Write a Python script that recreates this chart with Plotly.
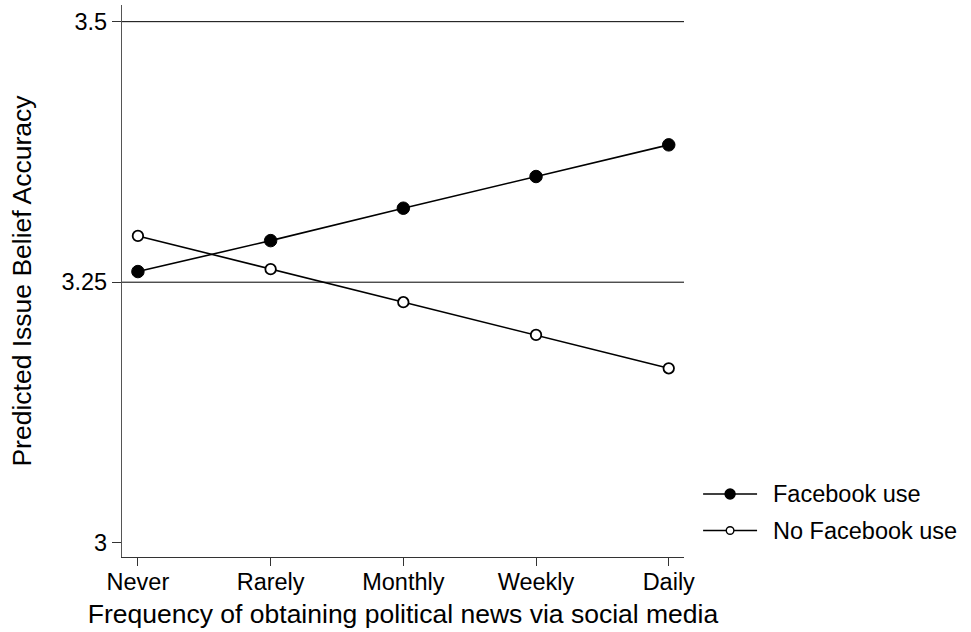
import plotly.graph_objects as go

# Frequency categories on the x axis
frequency = ["Never", "Rarely", "Monthly", "Weekly", "Daily"]

# Predicted issue belief accuracy by group
facebook_use = [3.2602, 3.2899, 3.3210, 3.3514, 3.3818]
no_facebook_use = [3.2944, 3.2625, 3.2308, 3.1994, 3.1674]

# Y tick values / labels and horizontal reference lines
y_ticks = [3.0, 3.25, 3.5]
y_tick_labels = ["3", "3.25", "3.5"]
grid_levels = [3.25, 3.5]

# Legend entries: (label, marker fill, marker radius in px, key row y in paper units)
legend_entries = [
    ("Facebook use", "black", 5, 0.114),
    ("No Facebook use", "white", 3.8, 0.048),
]

FONT = "Liberation Sans, Arial, Helvetica, sans-serif"
x_pos = list(range(len(frequency)))

fig = go.Figure()

fig.add_trace(go.Scatter(
    x=x_pos, y=facebook_use, mode="lines+markers", name="Facebook use",
    line=dict(color="black", width=1.6),
    marker=dict(symbol="circle", size=12.5, color="black",
                line=dict(color="black", width=1)),
))
fig.add_trace(go.Scatter(
    x=x_pos, y=no_facebook_use, mode="lines+markers", name="No Facebook use",
    line=dict(color="black", width=1.6),
    marker=dict(symbol="circle", size=10.5, color="white",
                line=dict(color="black", width=1.8)),
))

for g in grid_levels:
    fig.add_shape(type="line", xref="paper", x0=0, x1=1, yref="y", y0=g, y1=g,
                  line=dict(color="black", width=1), layer="below")

# Legend keys drawn to the right of the plot area
key_x0, key_x1, key_mid, text_x = 1.034, 1.130, 1.082, 1.154
for label, fill, radius, ky in legend_entries:
    fig.add_shape(type="line", xref="paper", yref="paper",
                  x0=key_x0, x1=key_x1, y0=ky, y1=ky,
                  line=dict(color="black", width=1.6))
    fig.add_shape(type="circle", xref="paper", yref="paper",
                  xsizemode="pixel", ysizemode="pixel",
                  xanchor=key_mid, yanchor=ky,
                  x0=-radius, x1=radius, y0=-radius, y1=radius,
                  fillcolor=fill, line=dict(color="black", width=1.4))
    fig.add_annotation(xref="paper", yref="paper", x=text_x, y=ky,
                       xanchor="left", yanchor="middle", showarrow=False,
                       text=label, font=dict(size=23.5, family=FONT, color="black"))

fig.update_layout(
    width=971, height=632,
    margin=dict(l=122, r=287, t=5, b=75),
    paper_bgcolor="white", plot_bgcolor="white",
    font=dict(family=FONT, color="black", size=23.5),
    showlegend=False,
    xaxis=dict(
        range=[-0.12, 4.115], tickmode="array", tickvals=x_pos, ticktext=frequency,
        showgrid=False, zeroline=False, showline=True, linecolor="#333333",
        linewidth=1.2, ticks="outside", ticklen=8, tickcolor="#333333",
        tickfont=dict(size=23.5), ticklabelstandoff=-4,
        title=dict(text="Frequency of obtaining political news via social media",
                   font=dict(size=26.5), standoff=10),
    ),
    yaxis=dict(
        range=[2.9863, 3.516], tickmode="array", tickvals=y_ticks, ticktext=y_tick_labels,
        showgrid=False, zeroline=False, showline=True, linecolor="#555555",
        linewidth=1.2, ticks="outside", ticklen=9, tickcolor="#333333",
        tickfont=dict(size=23.5),
        title=dict(text="Predicted Issue Belief Accuracy", font=dict(size=26.5), standoff=22),
    ),
)

fig.write_html("out.html")
